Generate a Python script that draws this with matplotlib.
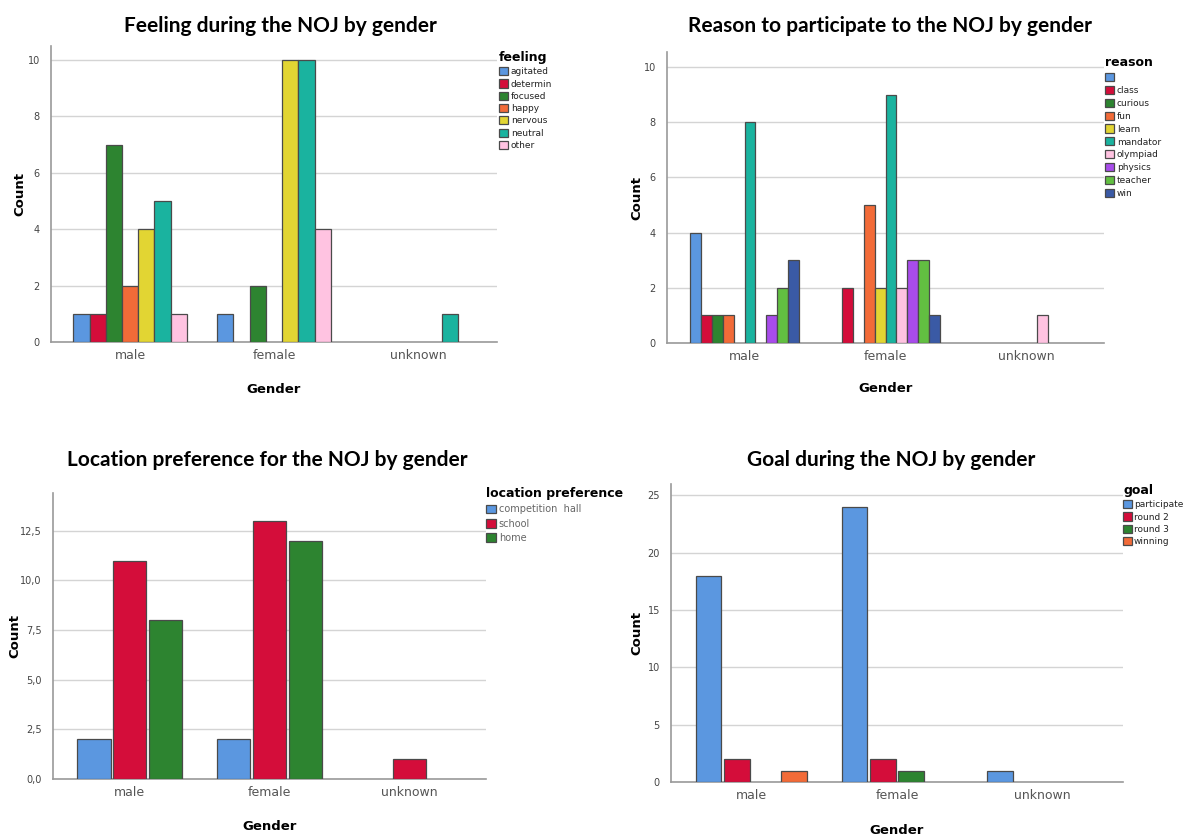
import numpy as np
import matplotlib
matplotlib.use("Agg")
import matplotlib.pyplot as plt
from matplotlib.ticker import FuncFormatter, MultipleLocator

# ---------------- data ----------------
genders = ["male", "female", "unknown"]

feelings = ["agitated", "determin", "focused", "happy", "nervous", "neutral", "other"]
feeling_male = [1, 1, 7, 2, 4, 5, 1]
feeling_female = [1, 0, 2, 0, 10, 10, 4]
feeling_unknown = [0, 0, 0, 0, 0, 1, 0]

reasons = ["", "class", "curious", "fun", "learn", "mandator", "olympiad", "physics", "teacher", "win"]
reason_male = [4, 1, 1, 1, 0, 8, 0, 1, 2, 3]
reason_female = [0, 2, 0, 5, 2, 9, 2, 3, 3, 1]
reason_unknown = [0, 0, 0, 0, 0, 0, 1, 0, 0, 0]

locations = ["competition  hall", "school", "home"]
location_male = [2, 11, 8]
location_female = [2, 13, 12]
location_unknown = [0, 1, 0]

goals = ["participate", "round 2", "round 3", "winning"]
goal_male = [18, 2, 0, 1]
goal_female = [24, 2, 1, 0]
goal_unknown = [1, 0, 0, 0]

# ---------------- style ----------------
BLUE = "#5B97E0"
RED = "#D40D3A"
DGREEN = "#2D8430"
ORANGE = "#F26B38"
YELLOW = "#E2D533"
TEAL = "#1AB39F"
PINK = "#FFC3E1"
PURPLE = "#A84CEB"
LGREEN = "#62BF41"
NAVY = "#3A5AA5"

feeling_colors = [BLUE, RED, DGREEN, ORANGE, YELLOW, TEAL, PINK]
reason_colors = [BLUE, RED, DGREEN, ORANGE, YELLOW, TEAL, PINK, PURPLE, LGREEN, NAVY]
location_colors = [BLUE, RED, DGREEN]
goal_colors = [BLUE, RED, DGREEN, ORANGE]

TITLE_FONT = "Lato"
W, H = 1184, 836
fig = plt.figure(figsize=(W / 100, H / 100), dpi=100)
fig.patch.set_facecolor("white")


def px_axes(left, top, right, bottom):
    return fig.add_axes([left / W, 1 - bottom / H, (right - left) / W, (bottom - top) / H])


def panel(ax, cats, series, colors, group_frac, ylim, ystep, title, title_xy,
          ylabel_x, xlabel_y, leg_xy, leg_title, leg_fs=6.5, leg_color="#222222",
          comma=False, gap=0.0, lspace=0.35, tpad=0.3):
    n = len(cats)
    x = np.arange(len(genders))
    bw = group_frac / n
    for i in range(n):
        vals = np.array([s[i] for s in series], dtype=float)
        vals = np.where(vals > 0, vals, np.nan)
        ax.bar(x - group_frac / 2 + bw * (i + 0.5), vals, width=bw - gap,
               color=colors[i], edgecolor="#4a4a4a", linewidth=0.9,
               label=cats[i] if cats[i] else " ", zorder=3)
    ax.set_xlim(-0.55, 2.55)
    ax.set_ylim(0, ylim)
    ax.yaxis.set_major_locator(MultipleLocator(ystep))
    if comma:
        ax.yaxis.set_major_formatter(FuncFormatter(lambda v, p: f"{v:.1f}".replace(".", ",")))
    ax.set_xticks(x)
    ax.set_xticklabels(genders, color="#555555", fontsize=9)
    ax.tick_params(axis="x", length=0, pad=5)
    ax.tick_params(axis="y", length=0, pad=8, labelsize=7, labelcolor="#444444")
    ax.grid(axis="y", color="#d4d4d4", linewidth=1.0, zorder=0)
    for s in ("top", "right"):
        ax.spines[s].set_visible(False)
    for s in ("left", "bottom"):
        ax.spines[s].set_color("#9a9a9a")
        ax.spines[s].set_linewidth(1.2)
    fig.text(title_xy[0] / W, 1 - title_xy[1] / H, title, ha="center", va="center",
             fontsize=15, fontweight="bold", family=TITLE_FONT)
    bb = ax.get_position()
    fig.text(ylabel_x / W, (bb.y0 + bb.y1) / 2, "Count", rotation=90, ha="center",
             va="center", fontsize=9.5, fontweight="bold")
    fig.text((bb.x0 + bb.x1) / 2, 1 - xlabel_y / H, "Gender", ha="center", va="center",
             fontsize=9.5, fontweight="bold")
    leg = ax.legend(loc="upper left", bbox_to_anchor=(leg_xy[0] / W, 1 - leg_xy[1] / H),
                    bbox_transform=fig.transFigure, frameon=False, fontsize=leg_fs,
                    title=leg_title, title_fontproperties={"weight": "bold", "size": 9},
                    handlelength=1.0, handleheight=1.0, handletextpad=tpad,
                    labelspacing=lspace, borderpad=0, borderaxespad=0, alignment="left")
    for t in leg.get_texts():
        t.set_color(leg_color)
    return ax


ax1 = px_axes(51, 46, 497, 342)
panel(ax1, feelings, [feeling_male, feeling_female, feeling_unknown], feeling_colors,
      0.79, 10.5, 2, "Feeling during the NOJ by gender", (280, 26), 20, 390,
      (499, 51), "feeling")

ax2 = px_axes(667, 52, 1104, 343)
panel(ax2, reasons, [reason_male, reason_female, reason_unknown], reason_colors,
      0.77, 10.54, 2, "Reason to participate to the NOJ by gender", (890, 26), 637, 389,
      (1105, 56), "reason", lspace=0.42)

ax3 = px_axes(53, 493, 486, 779)
panel(ax3, locations, [location_male, location_female, location_unknown], location_colors,
      0.77, 14.4, 2.5, "Location preference for the NOJ by gender", (267, 460), 15, 827,
      (486, 487), "location preference", leg_fs=7, leg_color="#666666", comma=True,
      gap=0.02, lspace=0.45)

ax4 = px_axes(671, 484, 1123, 782)
panel(ax4, goals, [goal_male, goal_female, goal_unknown], goal_colors,
      0.78, 26.0, 5, "Goal during the NOJ by gender", (891, 460), 637, 830,
      (1123, 484), "goal", leg_fs=6.5, gap=0.02, tpad=0.2)

fig.savefig("out.png", dpi=100, facecolor="white")
